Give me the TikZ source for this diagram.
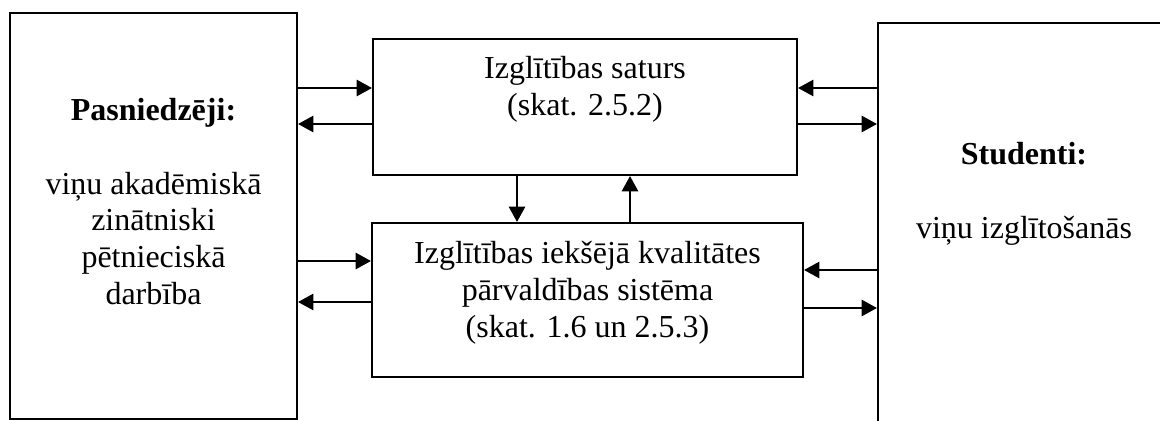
\documentclass[tikz,border=0pt]{standalone}
\usepackage{fontspec}
\setmainfont{Liberation Serif}
\usepackage{tikz}
\usetikzlibrary{arrows.meta}
\tikzset{
  box/.style={
    draw, line width=1.5pt, inner sep=0pt,
  },
  flow/.style={
    -{Triangle[length=11.5pt,width=12pt]}, line width=2pt,
  },
  txt/.style={
    align=center, inner sep=0pt, anchor=base,
    font=\fontsize{24}{27.5}\selectfont,
  }
}

\begin{document}
\begin{tikzpicture}[x=0.75pt,y=0.75pt,yscale=-1,xscale=1]
\clip (0,0) rectangle (1160,421);

%Shape: Rectangle [pasniedzeji]
\node [box, minimum width=215.25pt, minimum height=304.5pt] (pasn) at (153.5,216) {};
%Shape: Rectangle [saturs]
\node [box, minimum width=318pt, minimum height=102pt] (satur) at (585,107) {};
%Shape: Rectangle [kvalitate]
\node [box, minimum width=323.25pt, minimum height=115.5pt] (kval) at (587.5,300) {};
%Shape: Rectangle [studenti] -- runs past the page edge
\node [box, minimum width=219pt, minimum height=315pt] (stud) at (1024,233) {};

% Text Node (anchored on the baseline of the last line)
\node [txt] (pasntxt) at (153.5,304) {\textbf{Pasniedzēji:}\\[27.5pt]viņu akadēmiskā\\zinātniski\\pētnieciskā\\darbība};
% Text Node
\node [txt] (saturtxt) at (585,115) {Izglītības saturs\\(skat. 2.5.2)};
% Text Node
\node [txt] (kvaltxt) at (587.5,337) {Izglītības iekšējā kvalitātes\\pārvaldības sistēma\\(skat. 1.6 un 2.5.3)};
% Text Node
\node [txt] (studtxt) at (1024,238) {\textbf{Studenti:}\\[27.5pt]viņu izglītošanās};

%Arrows: pasniedzeji <-> saturs
\draw [flow] (pasn.east |- 0,88) -- (satur.west |- 0,88);
\draw [flow] (satur.west |- 0,124) -- (pasn.east |- 0,124);
%Arrows: studenti <-> saturs
\draw [flow] (stud.west |- 0,88) -- (satur.east |- 0,88);
\draw [flow] (satur.east |- 0,124) -- (stud.west |- 0,124);
%Arrows: saturs <-> kvalitate
\draw [flow] (satur.south -| 517,0) -- (kval.north -| 517,0);
\draw [flow] (kval.north -| 630,0) -- (satur.south -| 630,0);
%Arrows: pasniedzeji <-> kvalitate
\draw [flow] (pasn.east |- 0,261) -- (kval.west |- 0,261);
\draw [flow] (kval.west |- 0,302) -- (pasn.east |- 0,302);
%Arrows: studenti <-> kvalitate
\draw [flow] (stud.west |- 0,270) -- (kval.east |- 0,270);
\draw [flow] (kval.east |- 0,308) -- (stud.west |- 0,308);

\end{tikzpicture}
\end{document}
